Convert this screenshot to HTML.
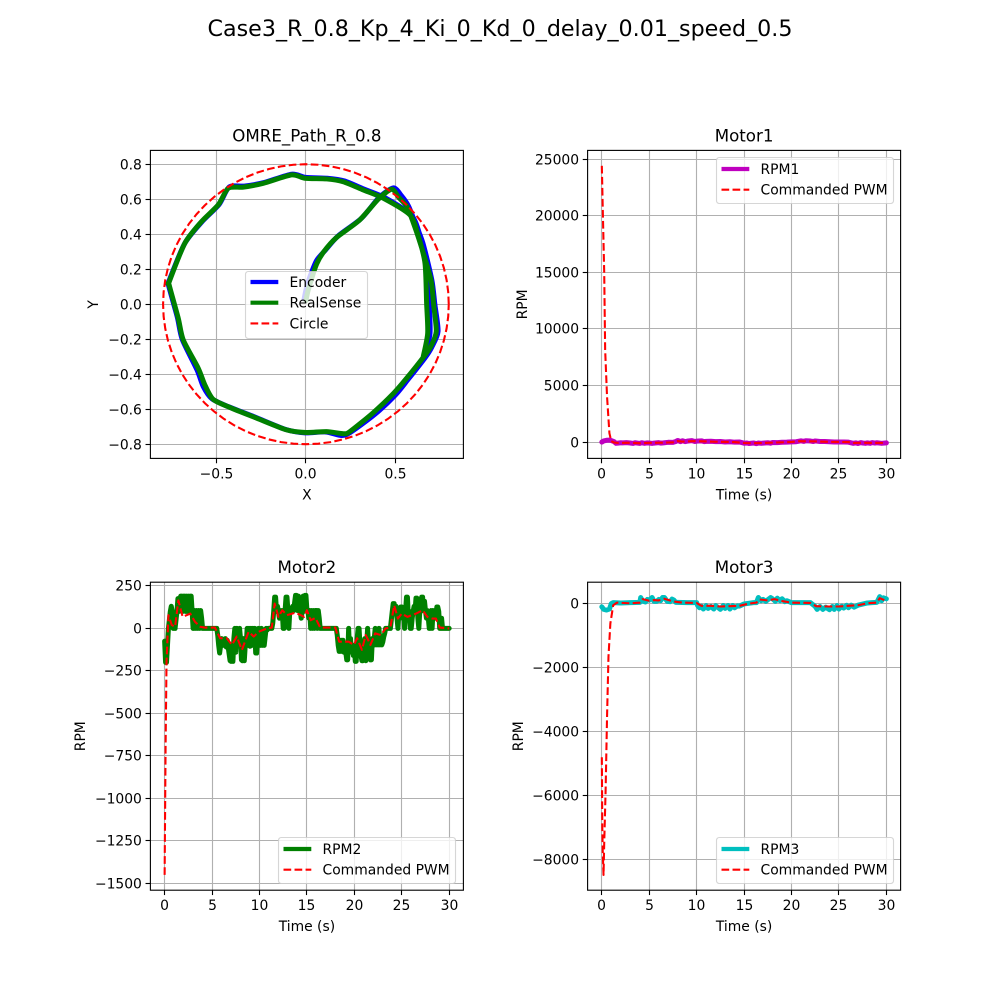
<!DOCTYPE html>
<html lang="en">
<head>
<meta charset="utf-8">
<title>Case3_R_0.8_Kp_4_Ki_0_Kd_0_delay_0.01_speed_0.5</title>
<style>
html,body{margin:0;padding:0;background:#fff;width:1000px;height:1000px;overflow:hidden}
svg{display:block}
text{font-family:"DejaVu Sans","Liberation Sans",sans-serif;fill:#000}
</style>
</head>
<body>
<svg id="fig" xmlns="http://www.w3.org/2000/svg" width="1000" height="1000" viewBox="0 0 1000 1000">
<text x="500" y="36" font-size="22.2" text-anchor="middle">Case3_R_0.8_Kp_4_Ki_0_Kd_0_delay_0.01_speed_0.5</text>
</svg>
<script>
// ---------- Path data ----------
const realX = [0,0.01,0.03,0.06,0.10,0.17,0.30,0.405,0.48,0.52,0.565,0.60,0.64,0.70,0.715,0.73,0.70,0.66,0.564,0.49,0.377,0.246,0.21,0.116,0,-0.108,-0.276,-0.426,-0.52,-0.566,-0.603,-0.687,-0.715,-0.766,-0.765,-0.678,-0.585,-0.491,-0.435,-0.351,-0.239,-0.08,-0.006,0.116,0.209,0.321,0.433,0.583,0.63,0.667,0.676,0.682,0.657];
const realY = [0.02,0.07,0.14,0.23,0.30,0.38,0.48,0.60,0.657,0.61,0.56,0.47,0.35,0.14,0.0,-0.156,-0.24,-0.30,-0.423,-0.51,-0.62,-0.728,-0.74,-0.728,-0.733,-0.718,-0.651,-0.59,-0.543,-0.461,-0.366,-0.204,-0.08,0.11,0.13,0.349,0.472,0.568,0.663,0.669,0.691,0.739,0.72,0.716,0.70,0.653,0.606,0.51,0.387,0.234,0.006,-0.166,-0.30];
const encX = [-0.01,0.0,0.02,0.06,0.11,0.18,0.31,0.41,0.49,0.535,0.575,0.61,0.655,0.705,0.722,0.74,0.705,0.668,0.572,0.50,0.385,0.25,0.20,0.11,-0.005,-0.115,-0.285,-0.435,-0.527,-0.575,-0.61,-0.693,-0.72,-0.77,-0.768,-0.68,-0.583,-0.486,-0.43,-0.345,-0.235,-0.08,-0.002,0.12,0.215,0.325,0.44,0.59,0.64,0.678,0.69,0.695,0.665];
const encY = [0.03,0.08,0.15,0.25,0.31,0.39,0.49,0.61,0.665,0.62,0.56,0.47,0.35,0.14,0.0,-0.155,-0.245,-0.305,-0.43,-0.52,-0.63,-0.732,-0.75,-0.73,-0.735,-0.715,-0.645,-0.585,-0.54,-0.47,-0.375,-0.20,-0.075,0.11,0.13,0.345,0.47,0.57,0.67,0.675,0.695,0.743,0.725,0.72,0.705,0.658,0.61,0.51,0.39,0.235,0.006,-0.166,-0.30];
const circleRadius = 0.8;
const circleAngles = [0,5,10,15,20,25,30,35,40,45,50,55,60,65,70,75,80,85,90,95,100,105,110,115,120,125,130,135,140,145,150,155,160,165,170,175,180,185,190,195,200,205,210,215,220,225,230,235,240,245,250,255,260,265,270,275,280,285,290,295,300,305,310,315,320,325,330,335,340,345,350,355,360];

// ---------- Motor 1 ----------
const rpm1Time = [0,0.2,0.5,0.8,1,1.3,1.5,1.7,2,2.2,2.6,3,3.3,3.5,4,4.2,4.5,4.8,5,5.3,5.5,6,6.2,6.5,7,7.5,7.8,8,8.3,8.5,8.8,9,9.5,9.8,10,10.5,10.8,11,11.5,12,12.5,13,13.5,14,14.5,15,15.3,15.5,16,16.3,16.5,16.8,17,17.5,17.8,18,18.5,19,19.5,20,20.5,21,21.3,21.5,22,22.3,22.5,23,23.5,24,24.5,25,25.5,26,26.5,26.8,27,27.3,27.5,27.8,28,28.3,28.5,28.8,29,29.5,30];
const rpm1Values = [20,120,180,190,150,50,-90,-70,-40,-50,-30,-60,-100,-40,-100,-40,-90,-50,-60,-100,-70,-30,-70,-50,0,-10,70,160,60,140,60,100,150,70,100,130,60,80,90,60,70,30,50,10,30,-80,-60,-110,-60,-120,-60,-90,-70,-40,-80,-20,-30,0,10,40,50,130,80,140,110,70,120,70,70,50,30,30,30,10,-90,-50,-110,-30,-60,-90,-50,-90,-30,-70,-40,-90,-50];
const pwm1Time = [0,0.1,0.25,0.35,0.55,0.8,1,1.3,1.7,2.5,3,4,5,6,7,7.6,8,8.5,9.5,10.5,12,14,15,16,17,18,20,20.8,21.5,22.5,24,26,26.5,27.5,28.5,30];
const pwm1Values = [24400,20500,15000,8150,4030,800,100,-20,-60,-40,-50,-80,-50,-40,-20,0,110,60,100,90,50,20,-60,-80,-60,-30,30,100,90,80,40,20,-60,-40,-60,-50];

// ---------- Motor 2 ----------
const rpm2Time = [0,0.1,0.2,0.3,0.4,0.5,0.6,0.7,0.8,0.9,1,1.1,1.2,1.3,1.4,1.5,1.6,1.7,1.8,1.9,2,2.1,2.2,2.3,2.4,2.5,2.6,2.7,2.8,2.9,3,3.1,3.2,3.3,3.4,3.5,3.6,3.7,3.8,3.9,4,4.1,4.2,4.3,4.4,4.5,4.6,4.7,4.8,4.9,5,5.1,5.2,5.3,5.4,5.5,5.6,5.7,5.8,5.9,6,6.1,6.2,6.3,6.4,6.5,6.6,6.7,6.8,6.9,7,7.1,7.2,7.3,7.4,7.5,7.6,7.7,7.8,7.9,8,8.1,8.2,8.3,8.4,8.5,8.6,8.7,8.8,8.9,9,9.1,9.2,9.3,9.4,9.5,9.6,9.7,9.8,9.9,10,10.1,10.2,10.3,10.4,10.5,10.6,10.7,10.8,10.9,11,11.1,11.2,11.3,11.4,11.5,11.6,11.7,11.8,11.9,12,12.1,12.2,12.3,12.4,12.5,12.6,12.7,12.8,12.9,13,13.1,13.2,13.3,13.4,13.5,13.6,13.7,13.8,13.9,14,14.1,14.2,14.3,14.4,14.5,14.6,14.7,14.8,14.9,15,15.1,15.2,15.3,15.4,15.5,15.6,15.7,15.8,15.9,16,16.1,16.2,16.3,16.4,16.5,16.6,16.7,16.8,16.9,17,17.1,17.2,17.3,17.4,17.5,17.6,17.7,17.8,17.9,18,18.1,18.2,18.3,18.4,18.5,18.6,18.7,18.8,18.9,19,19.1,19.2,19.3,19.4,19.5,19.6,19.7,19.8,19.9,20,20.1,20.2,20.3,20.4,20.5,20.6,20.7,20.8,20.9,21,21.1,21.2,21.3,21.4,21.5,21.6,21.7,21.8,21.9,22,22.1,22.2,22.3,22.4,22.5,22.6,22.7,22.8,22.9,23,23.1,23.2,23.3,23.4,23.5,23.6,23.7,23.8,23.9,24,24.1,24.2,24.3,24.4,24.5,24.6,24.7,24.8,24.9,25,25.1,25.2,25.3,25.4,25.5,25.6,25.7,25.8,25.9,26,26.1,26.2,26.3,26.4,26.5,26.6,26.7,26.8,26.9,27,27.1,27.2,27.3,27.4,27.5,27.6,27.7,27.8,27.9,28,28.1,28.2,28.3,28.4,28.5,28.6,28.7,28.8,28.9,29,29.1,29.2,29.3,29.4,29.5,29.6,29.7,29.8,29.9,30];
const rpm2Values = [-75,-200,-200,-100,0,50,100,130,100,0,
0,0,50,100,175,100,175,190,190,100,
190,190,100,190,100,190,100,190,190,100,
0,0,105,0,105,0,105,0,105,60,
0,0,0,0,0,0,0,0,0,0,
0,0,0,0,0,0,-40,-100,-145,-100,
-60,-100,-70,-100,-60,-110,-70,-110,-150,-190,
-194,-100,-194,-60,0,-140,0,-100,-50,0,
-60,-185,-190,-60,-190,-100,-100,0,-100,0,
-105,0,-100,0,-100,0,-145,-145,-60,0,
-50,-100,0,-100,-50,-100,-50,0,-10,0,
0,0,0,0,30,100,184,184,100,130,
100,60,105,100,105,0,0,105,184,184,
105,0,105,100,105,130,105,150,194,194,
105,190,105,100,60,100,190,100,194,194,
110,105,60,105,0,105,0,105,0,105,
105,0,105,60,0,0,0,0,0,0,
0,0,0,0,0,0,0,0,0,0,
0,0,-40,-100,-135,-135,-70,-135,-70,-140,
-100,-140,-185,-185,0,-135,-60,-140,-100,-160,
-100,-194,-194,-60,0,0,-100,-160,-190,-190,
-100,-60,-190,-100,0,-100,-100,-185,-185,-60,
-100,-60,0,-97,-50,-97,0,-97,-50,-97,
-80,-50,-30,0,0,0,0,0,0,50,
100,146,146,100,130,60,0,100,60,126,
126,60,100,0,100,184,184,60,100,0,
0,60,100,130,100,178,178,60,0,100,
100,184,184,105,160,105,60,105,60,0,
0,105,0,105,60,105,60,126,126,100,
0,0,60,0,0,0,0,0,0,0,0];
const pwm2Time = [0,0.1,0.2,0.4,0.75,1.1,1.45,1.9,2.7,3.2,3.75,4.2,5.3,5.85,6.55,7.1,7.6,8.15,8.85,9.4,9.9,10.8,11.3,11.6,12,12.4,12.9,13.8,14.7,15,15.4,15.9,16.4,18,18.4,19.4,19.95,20.3,20.8,21.2,21.7,22.2,22.8,23.3,23.8,24.2,24.6,25,25.6,26.5,27.2,27.7,28.2,28.6,29,30];
const pwm2Values = [-1450,-700,-200,78,20,10,165,68,87,39,10,5,5,-58,-58,-97,-48,-126,-20,-48,-20,0,5,146,68,107,78,93,68,107,48,62,5,5,-78,-78,-97,-58,-126,-39,-97,-29,-39,0,5,136,58,87,68,87,107,68,58,58,5,0];

// ---------- Motor 3 ----------
const rpm3Time = [0,0.2,0.5,0.8,1,1.2,2,3,4,4.1,4.3,4.6,4.8,5,5.3,5.5,5.8,6,6.2,6.4,6.6,6.9,7.2,7.4,7.6,7.8,8,9,10,10.1,10.3,10.5,10.7,11,11.2,11.5,11.8,12,12.2,12.5,12.8,13,13.3,13.5,13.8,14,14.3,14.5,15,16,16.3,16.5,16.8,17,17.3,17.5,17.8,18,18.3,18.5,18.8,19,19.3,19.5,20,22,22.5,22.7,23,23.3,23.6,24,24.3,24.5,24.8,25,25.3,25.5,25.8,26,26.3,26.6,27,28,28.5,29,29.3,29.5,29.7,30];
const rpm3Values = [-100,-180,-200,-170,0,30,20,30,40,190,80,50,130,110,190,70,70,130,90,190,190,70,60,140,110,40,40,30,30,-60,-130,-80,-170,-60,-150,-90,-170,-60,-110,-180,-60,-150,-60,-170,-60,-130,-70,-80,-10,30,30,190,90,130,70,120,190,150,70,170,90,150,60,90,30,30,-90,-180,-90,-180,-110,-190,-90,-180,-60,-170,-80,-140,-50,-130,-50,-110,-50,20,30,40,220,90,180,150];
const pwm3Time = [0,0.05,0.1,0.18,0.25,0.4,0.55,0.7,0.9,1.2,1.6,3,4,4.3,5,5.5,6,6.6,7.5,8.5,10,10.5,11.5,12.5,13.5,14.5,15.5,16.3,16.6,17.5,18.2,19,20,22,22.6,24,25,26,27,28,29,29.3,29.8,30];
const pwm3Values = [-4800,-7000,-7800,-8480,-7500,-5830,-3540,-1660,-620,-50,30,10,30,140,90,110,100,150,70,30,20,-70,-70,-90,-80,-70,0,30,130,100,140,80,30,20,-80,-90,-90,-70,-50,10,30,170,110,130];

// ---------- Tick labels ----------
const pathXTicks = [-0.5,0,0.5];
const pathYTicks = [-0.8,-0.6,-0.4,-0.2,0,0.2,0.4,0.6,0.8];
const timeTicks = [0,5,10,15,20,25,30];
const rpm1Ticks = [0,5000,10000,15000,20000,25000];
const rpm2Ticks = [-1500,-1250,-1000,-750,-500,-250,0,250];
const rpm3Ticks = [-8000,-6000,-4000,-2000,0];

const svg = document.getElementById('fig');
const NS = 'http://www.w3.org/2000/svg';
function make(tag, attrs, parent){
  const el = document.createElementNS(NS, tag);
  for (const k in attrs) el.setAttribute(k, attrs[k]);
  (parent || svg).appendChild(el);
  return el;
}
function scale(lim, a, b){ return v => a + (v - lim[0]) / (lim[1] - lim[0]) * (b - a); }
function snap(v){ return Math.round(v - 0.5) + 0.5; }
function fmt(v, d){ const s = Math.abs(v).toFixed(d); return (v < 0 ? '\u2212' : '') + s; }
function smoothPath(p){
  let d = 'M' + p[0][0].toFixed(2) + ' ' + p[0][1].toFixed(2);
  for (let i = 0; i < p.length - 1; i++){
    const a = p[Math.max(i-1,0)], b = p[i], c = p[i+1], e = p[Math.min(i+2,p.length-1)];
    const k = 1/8;
    d += 'C' + (b[0]+(c[0]-a[0])*k).toFixed(2) + ' ' + (b[1]+(c[1]-a[1])*k).toFixed(2) + ' '
      + (c[0]-(e[0]-b[0])*k).toFixed(2) + ' ' + (c[1]-(e[1]-b[1])*k).toFixed(2) + ' '
      + c[0].toFixed(2) + ' ' + c[1].toFixed(2);
  }
  return d;
}

function drawAxes(o){
  const g = make('g', {});
  
  
  const x = scale(o.xlim, o.l, o.r), y = scale(o.ylim, o.b, o.t);
  o.xTicks.forEach(v => {
    const p = snap(x(v));
    const grid = make('line', {x1:p,x2:p,y1:o.t,y2:o.b,stroke:'#b0b0b0','stroke-width':1.11}, g);
    
    
    const tick = make('line', {x1:p,x2:p,y1:o.b,y2:o.b+4.86,stroke:'#000','stroke-width':1.11}, g);
    
    
    const lab = make('text', {x:p,y:o.b+20,'font-size':13.89,'text-anchor':'middle'}, g);
    
    
    lab.textContent = fmt(v, o.xDec);
  });
  o.yTicks.forEach(v => {
    const p = snap(y(v));
    const grid = make('line', {x1:o.l,x2:o.r,y1:p,y2:p,stroke:'#b0b0b0','stroke-width':1.11}, g);
    
    
    const tick = make('line', {x1:o.l-4.86,x2:o.l,y1:p,y2:p,stroke:'#000','stroke-width':1.11}, g);
    
    
    const lab = make('text', {x:o.l-8.5,y:p+5,'font-size':13.89,'text-anchor':'end'}, g);
    
    
    lab.textContent = fmt(v, o.yDec);
  });
  o.series.forEach(s => {
    const base = {fill:'none',stroke:s.color,'stroke-width':s.dash ? 2.08 : 5,'stroke-linejoin':'round','stroke-linecap':s.dash ? 'butt' : 'round'};
    if (s.dash) base['stroke-dasharray'] = '7.7 3.33';
    let line;
    const coords = s.xs.map((v,i) => [x(v), y(s.ys[i])]);
    if (s.smooth){
      base.d = smoothPath(coords);
      line = make('path', base, g);
    } else {
      base.points = coords.map(c => c[0].toFixed(2) + ',' + c[1].toFixed(2)).join(' ');
      line = make('polyline', base, g);
    }
    
    
  });
  const frame = make('rect', {x:o.l,y:o.t,width:o.r-o.l,height:o.b-o.t,fill:'none',stroke:'#000','stroke-width':1.11}, g);
  
  
  const title = make('text', {x:(o.l+o.r)/2,y:o.t-9,'font-size':16.67,'text-anchor':'middle'}, g);
  
  
  title.textContent = o.title;
  const xl = make('text', {x:(o.l+o.r)/2,y:o.b+41,'font-size':13.89,'text-anchor':'middle'}, g);
  
  
  xl.textContent = o.xLabel;
  const cy = (o.t+o.b)/2;
  const yl = make('text', {x:o.yLabelX,y:cy,'font-size':13.89,'text-anchor':'middle',transform:'rotate(-90 '+o.yLabelX+' '+cy+')'}, g);
  
  
  yl.textContent = o.yLabel;

  const lg = make('g', {}, g);
  
  
  const L = o.legend;
  const box = make('rect', {x:L.x+0.5,y:L.y+0.5,width:L.w,height:L.h,rx:2.8,ry:2.8,fill:'#fff','fill-opacity':0.8,stroke:'#ccc','stroke-opacity':0.8,'stroke-width':1.11}, lg);
  
  
  L.items.forEach((it,i) => {
    const ry = L.y + L.firstRow + i * 20.7;
    const attrs = {x1:L.x+5.5,x2:L.x+33.3,y1:ry,y2:ry,stroke:it.color,'stroke-width':it.dash ? 2.08 : 4.17};
    if (it.dash) attrs['stroke-dasharray'] = '7.7 3.33';
    const h = make('line', attrs, lg);
    
    
    const t = make('text', {x:L.x+44.5,y:ry+5,'font-size':13.89}, lg);
    
    
    t.textContent = it.label;
  });
}

const timeLim = [-1.5,31.5];
drawAxes({name:'path-chart',title:'OMRE_Path_R_0.8',xLabel:'X',yLabel:'Y',yLabelX:98,
  l:150.4,r:463.4,t:150.4,b:458.4,xlim:[-0.871,0.882],ylim:[-0.881,0.879],
  xTicks:pathXTicks,yTicks:pathYTicks,xDec:1,yDec:1,
  series:[
    {name:'encoder-line',xs:encX,ys:encY,color:'#0000ff',smooth:true},
    {name:'realsense-line',xs:realX,ys:realY,color:'#008000',smooth:true},
    {name:'circle-line',xs:circleAngles.map(a=>circleRadius*Math.cos(a*Math.PI/180)),ys:circleAngles.map(a=>circleRadius*Math.sin(a*Math.PI/180)),color:'#ff0000',dash:true}
  ],
  legend:{x:245,y:271,w:122,h:67,firstRow:11,items:[{label:'Encoder',color:'#0000ff'},{label:'RealSense',color:'#008000'},{label:'Circle',color:'#ff0000',dash:true}]}
});
drawAxes({name:'motor1-chart',title:'Motor1',xLabel:'Time (s)',yLabel:'RPM',yLabelX:527,
  l:587.6,r:900.6,t:150.4,b:458.4,xlim:timeLim,ylim:[-1421,25760],
  xTicks:timeTicks,yTicks:rpm1Ticks,xDec:0,yDec:0,
  series:[
    {name:'rpm1-line',xs:rpm1Time,ys:rpm1Values,color:'#bf00bf'},
    {name:'pwm1-line',xs:pwm1Time,ys:pwm1Values,color:'#ff0000',dash:true}
  ],
  legend:{x:716,y:157,w:177,h:46,firstRow:12,items:[{label:'RPM1',color:'#bf00bf'},{label:'Commanded PWM',color:'#ff0000',dash:true}]}
});
drawAxes({name:'motor2-chart',title:'Motor2',xLabel:'Time (s)',yLabel:'RPM',yLabelX:85,
  l:150.4,r:463.4,t:582.2,b:890.2,xlim:timeLim,ylim:[-1540,271.8],
  xTicks:timeTicks,yTicks:rpm2Ticks,xDec:0,yDec:0,
  series:[
    {name:'rpm2-line',xs:rpm2Time,ys:rpm2Values,color:'#008000'},
    {name:'pwm2-line',xs:pwm2Time,ys:pwm2Values,color:'#ff0000',dash:true}
  ],
  legend:{x:278,y:837,w:177,h:46,firstRow:12,items:[{label:'RPM2',color:'#008000'},{label:'Commanded PWM',color:'#ff0000',dash:true}]}
});
drawAxes({name:'motor3-chart',title:'Motor3',xLabel:'Time (s)',yLabel:'RPM',yLabelX:523,
  l:587.6,r:900.6,t:582.2,b:890.2,xlim:timeLim,ylim:[-8956,669],
  xTicks:timeTicks,yTicks:rpm3Ticks,xDec:0,yDec:0,
  series:[
    {name:'rpm3-line',xs:rpm3Time,ys:rpm3Values,color:'#00bfbf'},
    {name:'pwm3-line',xs:pwm3Time,ys:pwm3Values,color:'#ff0000',dash:true}
  ],
  legend:{x:716,y:837,w:177,h:46,firstRow:12,items:[{label:'RPM3',color:'#00bfbf'},{label:'Commanded PWM',color:'#ff0000',dash:true}]}
});
</script>
</body>
</html>
